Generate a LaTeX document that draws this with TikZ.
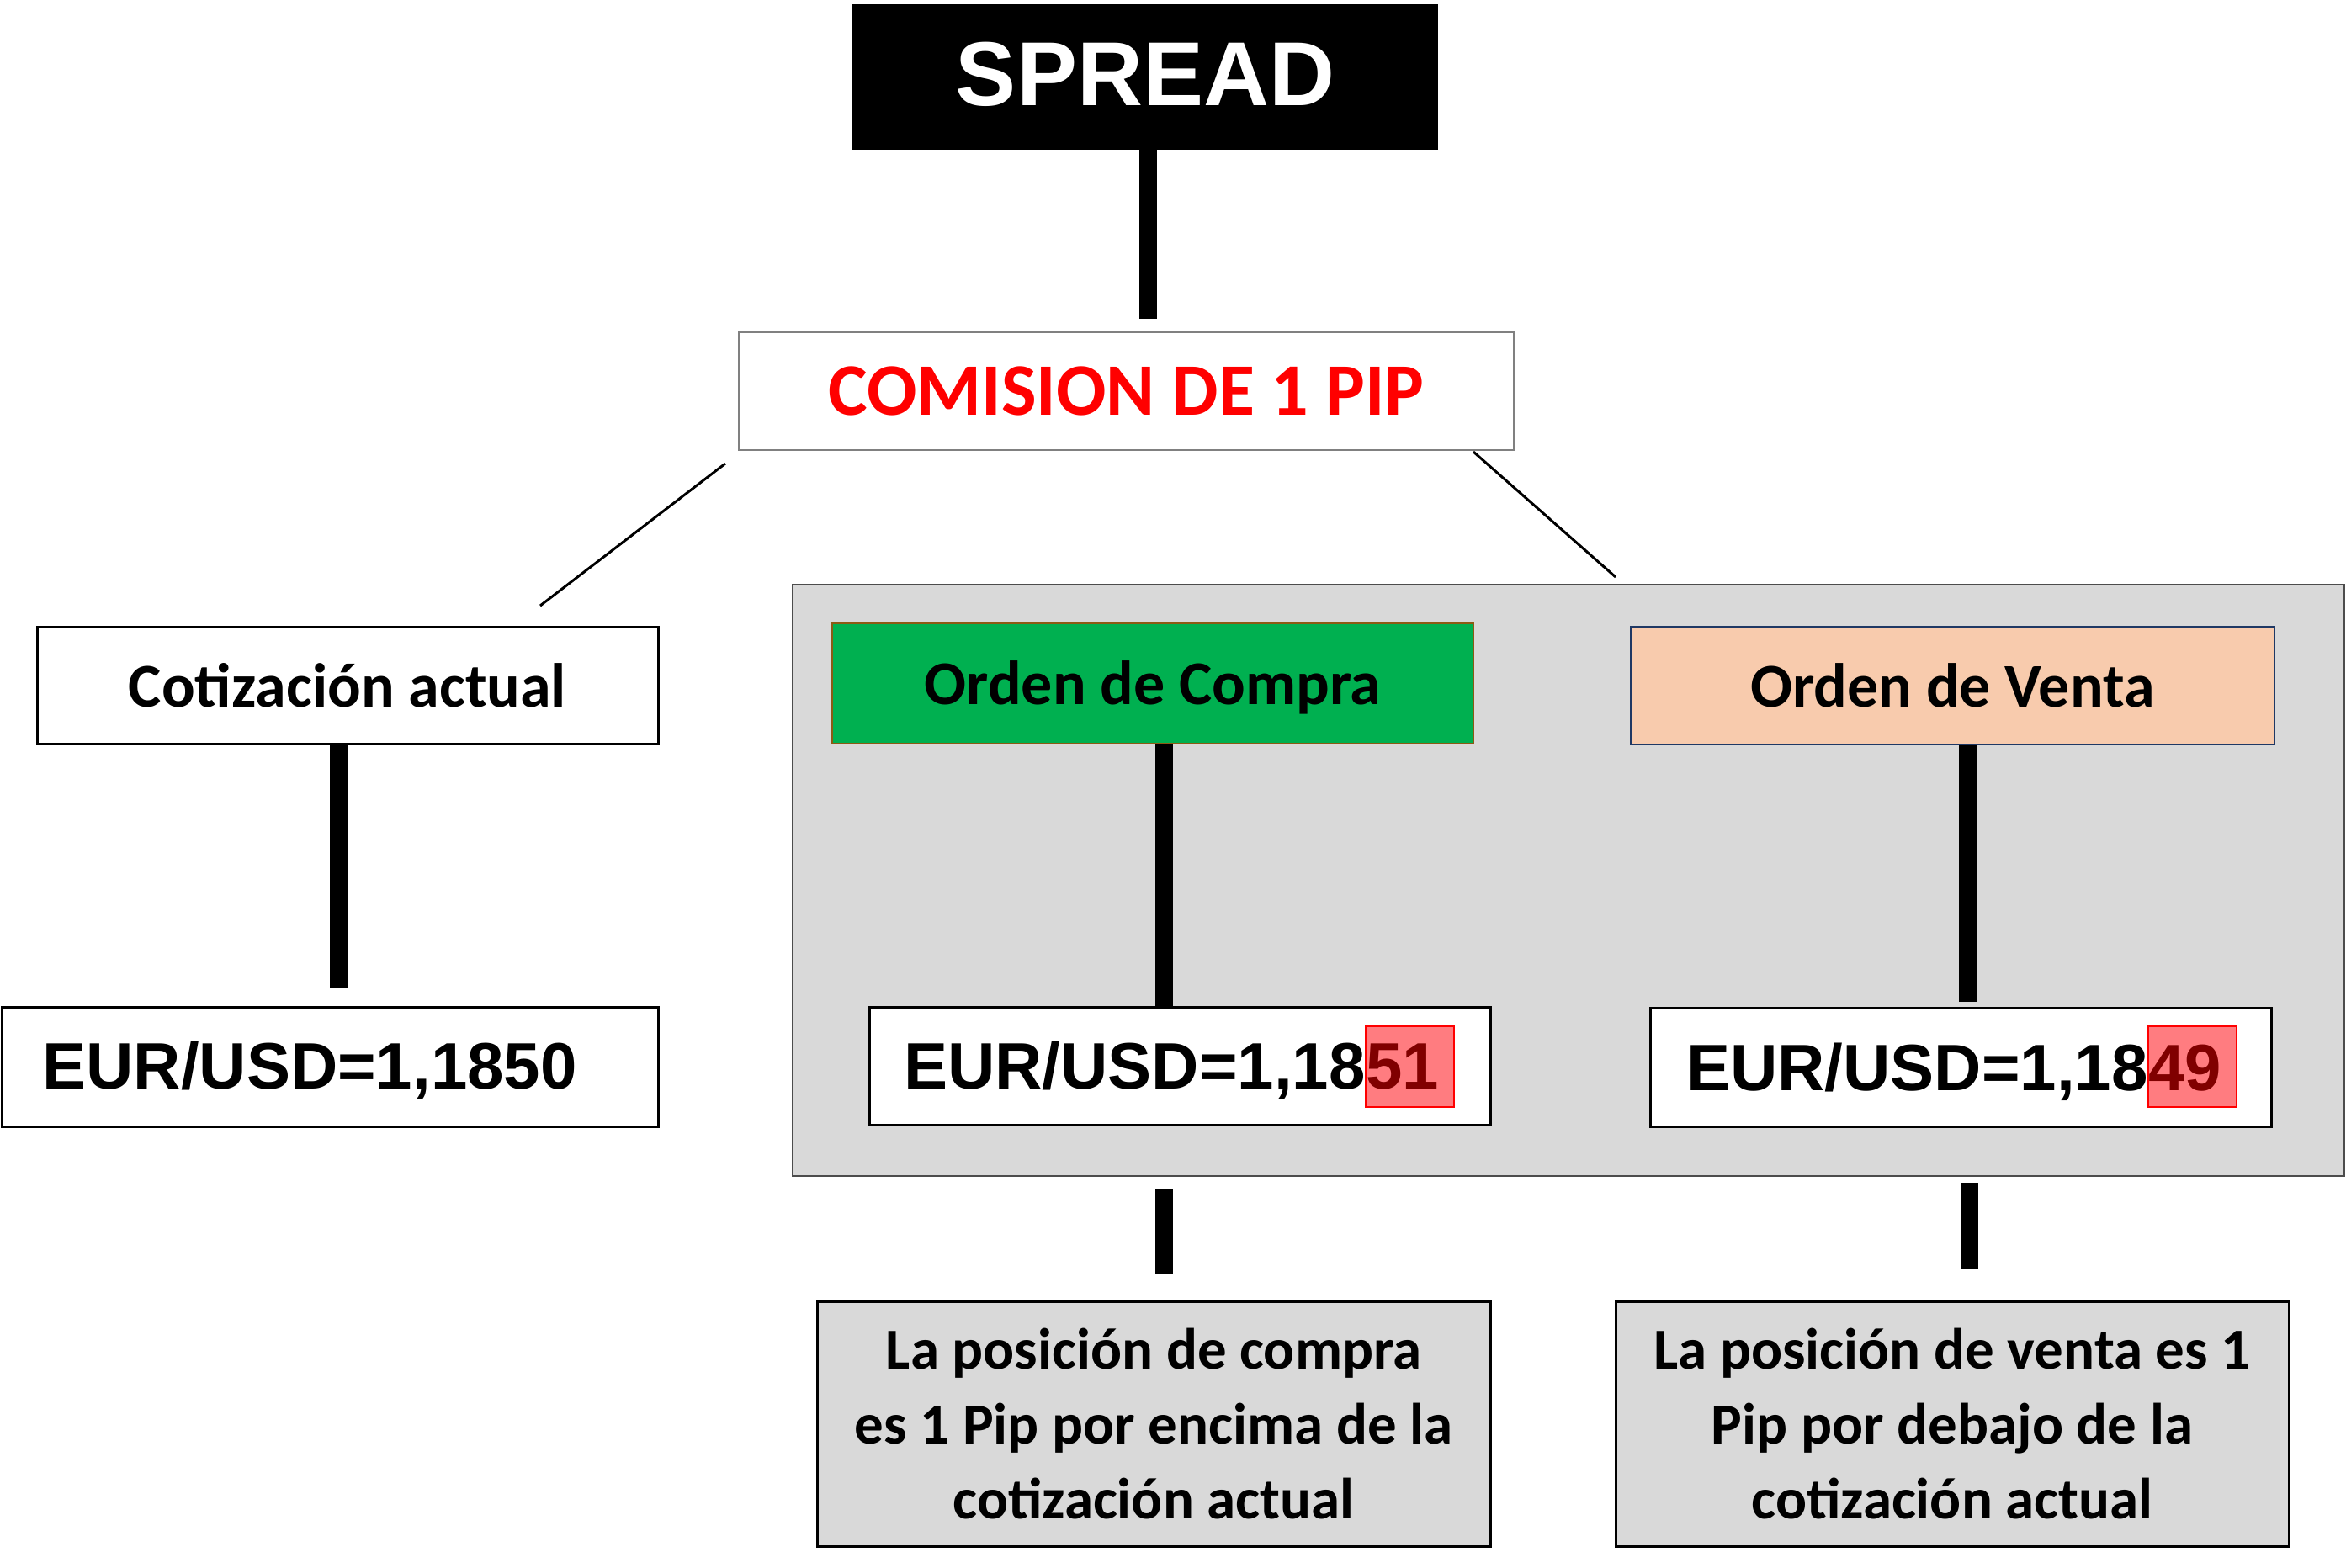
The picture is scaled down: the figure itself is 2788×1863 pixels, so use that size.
\documentclass[tikz,border=0pt]{standalone}
\usepackage{fontspec}
\setmainfont{Carlito}
\newfontfamily\arialb{Liberation Sans}
\definecolor{panel}{HTML}{D9D9D9}
\definecolor{compragreen}{HTML}{00B050}
\definecolor{comprabord}{HTML}{8C5A14}
\definecolor{ventafill}{HTML}{F8CBAD}
\definecolor{ventabord}{HTML}{1F3864}
\definecolor{hlfill}{HTML}{FF7C80}
\definecolor{digit}{HTML}{800000}
\begin{document}
\begin{tikzpicture}[x=0.5pt,y=-0.5pt,
  box/.style={draw=black,line width=1.5pt,fill=white,inner sep=0pt,align=center},
  stem/.style={line width=10.5pt},
  thinline/.style={line width=1.5pt},
  cal/.style={font=\fontsize{37}{44.5}\selectfont\bfseries},
  eurtxt/.style={font=\arialb\fontsize{39}{44}\selectfont\bfseries,inner sep=0pt},
  hl/.style={fill=hlfill,draw=red,line width=1pt,inner sep=0pt,minimum width=52.5pt,minimum height=48pt}]
\useasboundingbox (0,0) rectangle (2788,1863);
% top
\node[fill=black,inner sep=0pt,minimum width=348pt,minimum height=86.5pt,text=white,
  font=\arialb\fontsize{54}{60}\selectfont\bfseries,text depth=4pt] (spread) at (1361,91.5) {SPREAD};
\node[box,draw=gray,line width=1pt,minimum width=460.5pt,minimum height=70pt,text=red,
  font=\fontsize{44}{50}\selectfont\bfseries] (comision) at (1338.5,465) {COMISION DE 1 PIP};
\coordinate (spreadend) at (1364,379);
\draw[stem] (spread.south -| spreadend) -- (spreadend);
% thin diagonals
\coordinate (la) at (862,551); \coordinate (lb) at (642,720);
\coordinate (ra) at (1751,537); \coordinate (rb) at (1920,686);
\draw[thinline] (la) -- (lb);
\draw[thinline] (ra) -- (rb);
% left column
\node[box,minimum width=369pt,minimum height=69.5pt,cal] (cot) at (413,814.5) {Cotización actual};
\coordinate (cotend) at (402,1175);
\draw[stem] (cot.south -| cotend) -- (cotend);
\node[box,minimum width=390pt,minimum height=71pt] (eur0) at (392,1268) {};
\node[eurtxt,anchor=base west] (eur0txt) at (50,1294) {EUR/USD=1,1850};
% gray panel
\node[fill=panel,draw=black!70,line width=1pt,inner sep=0pt,minimum width=922pt,minimum height=351.5pt] (panel) at (1864,1046.5) {};
\node[box,fill=compragreen,draw=comprabord,line width=1pt,minimum width=381pt,minimum height=71.5pt,cal,text depth=1pt] (compra) at (1370,812.5) {Orden de Compra};
\node[box,fill=ventafill,draw=ventabord,line width=1pt,minimum width=382.5pt,minimum height=70pt,cal] (venta) at (2320.5,815) {Orden de Venta};
\node[box,minimum width=369pt,minimum height=70pt] (eur1) at (1402,1267) {};
\node[box,minimum width=369pt,minimum height=70.5pt] (eur2) at (2330,1268.5) {};
\draw[stem] (compra.south -| 1383,0) -- (eur1.north -| 1383,0);
\coordinate (ventaend) at (2338,1191);
\draw[stem] (venta.south -| ventaend) -- (ventaend);
\node[hl] (hl1) at (1675.5,1268) {};
\node[hl] (hl2) at (2605.5,1268) {};
\node[eurtxt,anchor=base east] (eur1txt) at (1623,1294) {EUR/USD=1,18};
\node[eurtxt,anchor=base west,text=digit] (eur1dig) at (1623,1294) {51};
\node[eurtxt,anchor=base east] (eur2txt) at (2553,1296) {EUR/USD=1,18};
\node[eurtxt,anchor=base west,text=digit] (eur2dig) at (2553,1296) {49};
% lower stems
\coordinate (c1a) at (1383,1414); \coordinate (c1b) at (1383,1515);
\coordinate (v1a) at (2340,1406); \coordinate (v1b) at (2340,1508);
\draw[stem] (c1a) -- (c1b);
\draw[stem] (v1a) -- (v1b);
% descriptions
\node[box,fill=panel,minimum width=400pt,minimum height=145.5pt,font=\fontsize{34.5}{44.5}\selectfont\bfseries] (desc1) at (1371,1692.5)
  {La posición de compra\\es 1 Pip por encima de la\\cotización actual};
\node[box,fill=panel,minimum width=400pt,minimum height=145.5pt,font=\fontsize{34.5}{44.5}\selectfont\bfseries] (desc2) at (2320,1692.5)
  {La posición de venta es 1\\Pip por debajo de la\\cotización actual};
\end{tikzpicture}
\end{document}
